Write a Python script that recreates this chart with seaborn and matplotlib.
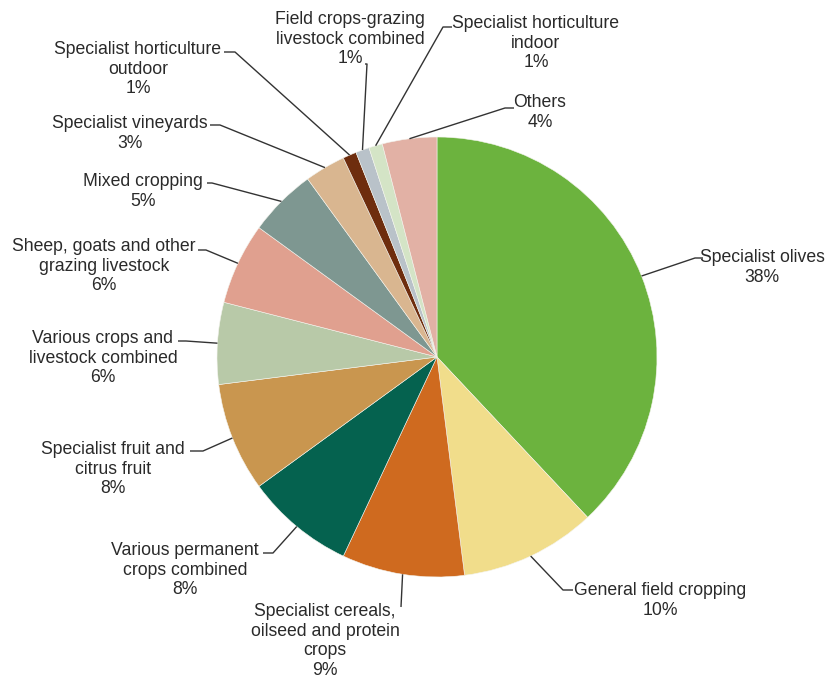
import numpy as np
import matplotlib
matplotlib.use("Agg")
import matplotlib.pyplot as plt
import seaborn as sns

# Share of holdings by farm type (%)
categories = [
    "Specialist olives",
    "General field cropping",
    "Specialist cereals,\noilseed and protein\ncrops",
    "Various permanent\ncrops combined",
    "Specialist fruit and\ncitrus fruit",
    "Various crops and\nlivestock combined",
    "Sheep, goats and other\ngrazing livestock",
    "Mixed cropping",
    "Specialist vineyards",
    "Specialist horticulture\noutdoor",
    "Field crops-grazing\nlivestock combined",
    "Specialist horticulture\nindoor",
    "Others",
]
shares = [38, 10, 9, 8, 8, 6, 6, 5, 3, 1, 1, 1, 4]

slice_colors = [
    "#6cb33e", "#f1dd8b", "#cf6a1f", "#05624f", "#c9964f", "#b8c9a8",
    "#e0a08f", "#7e9791", "#d9b690", "#6e2d0e", "#b9c2c9", "#d4e4c6",
    "#e2b1a5",
]

W, H = 827, 679
CX, CY, R = 437, H - 357, 220

# label layout in pixel coordinates (y measured from the top):
# text centre x, first-line centre y, elbow point, end of horizontal stub
layout = [
    (762, 256, (695, 258), 703),
    (660, 589, (563, 590), 573),
    (325, 610, (401, 607), 401),
    (185, 549, (273, 553), 263),
    (113, 448, (203, 451), 190),
    (103, 337, (186, 341), 178),
    (104, 245, (206, 250), 198),
    (143, 180, (212, 183), 207),
    (130, 122, (220, 125), 210),
    (138, 48, (235, 52), 224),
    (350, 18, (367, 64), 365),
    (536, 22, (443, 27), 452),
    (540, 101, (505, 108), 514),
]

sns.set_theme(style="white")
plt.rcParams["font.family"] = ["Liberation Sans", "DejaVu Sans"]

fig = plt.figure(figsize=(W / 100, H / 100), dpi=100)
ax = fig.add_axes([0, 0, 1, 1])
ax.set_xlim(0, W)
ax.set_ylim(0, H)
ax.axis("off")

wedges, _ = ax.pie(
    shares,
    colors=slice_colors,
    startangle=90,
    counterclock=False,
    center=(CX, CY),
    radius=R,
    wedgeprops=dict(linewidth=0.4, edgecolor="#f4f4ee"),
)
ax.set_xlim(0, W)
ax.set_ylim(0, H)
ax.set_aspect("equal")

text_color = "#2a2a2a"
for w, name, val, (tx, cy, (ex, ey), hx) in zip(wedges, categories, shares, layout):
    mid = np.deg2rad((w.theta1 + w.theta2) / 2)
    ax_x = CX + R * np.cos(mid)
    ax_y = CY + R * np.sin(mid)
    ax.plot([ax_x, ex, hx], [ax_y, H - ey, H - ey], color="#333333", lw=1.0,
            solid_capstyle="butt", zorder=3)
    ax.text(tx, H - (cy - 7), f"{name}\n{val}%", ha="center", va="top",
            multialignment="center", fontsize=12.7, color=text_color,
            linespacing=1.2)

fig.savefig("out.png", dpi=100, facecolor="white")
